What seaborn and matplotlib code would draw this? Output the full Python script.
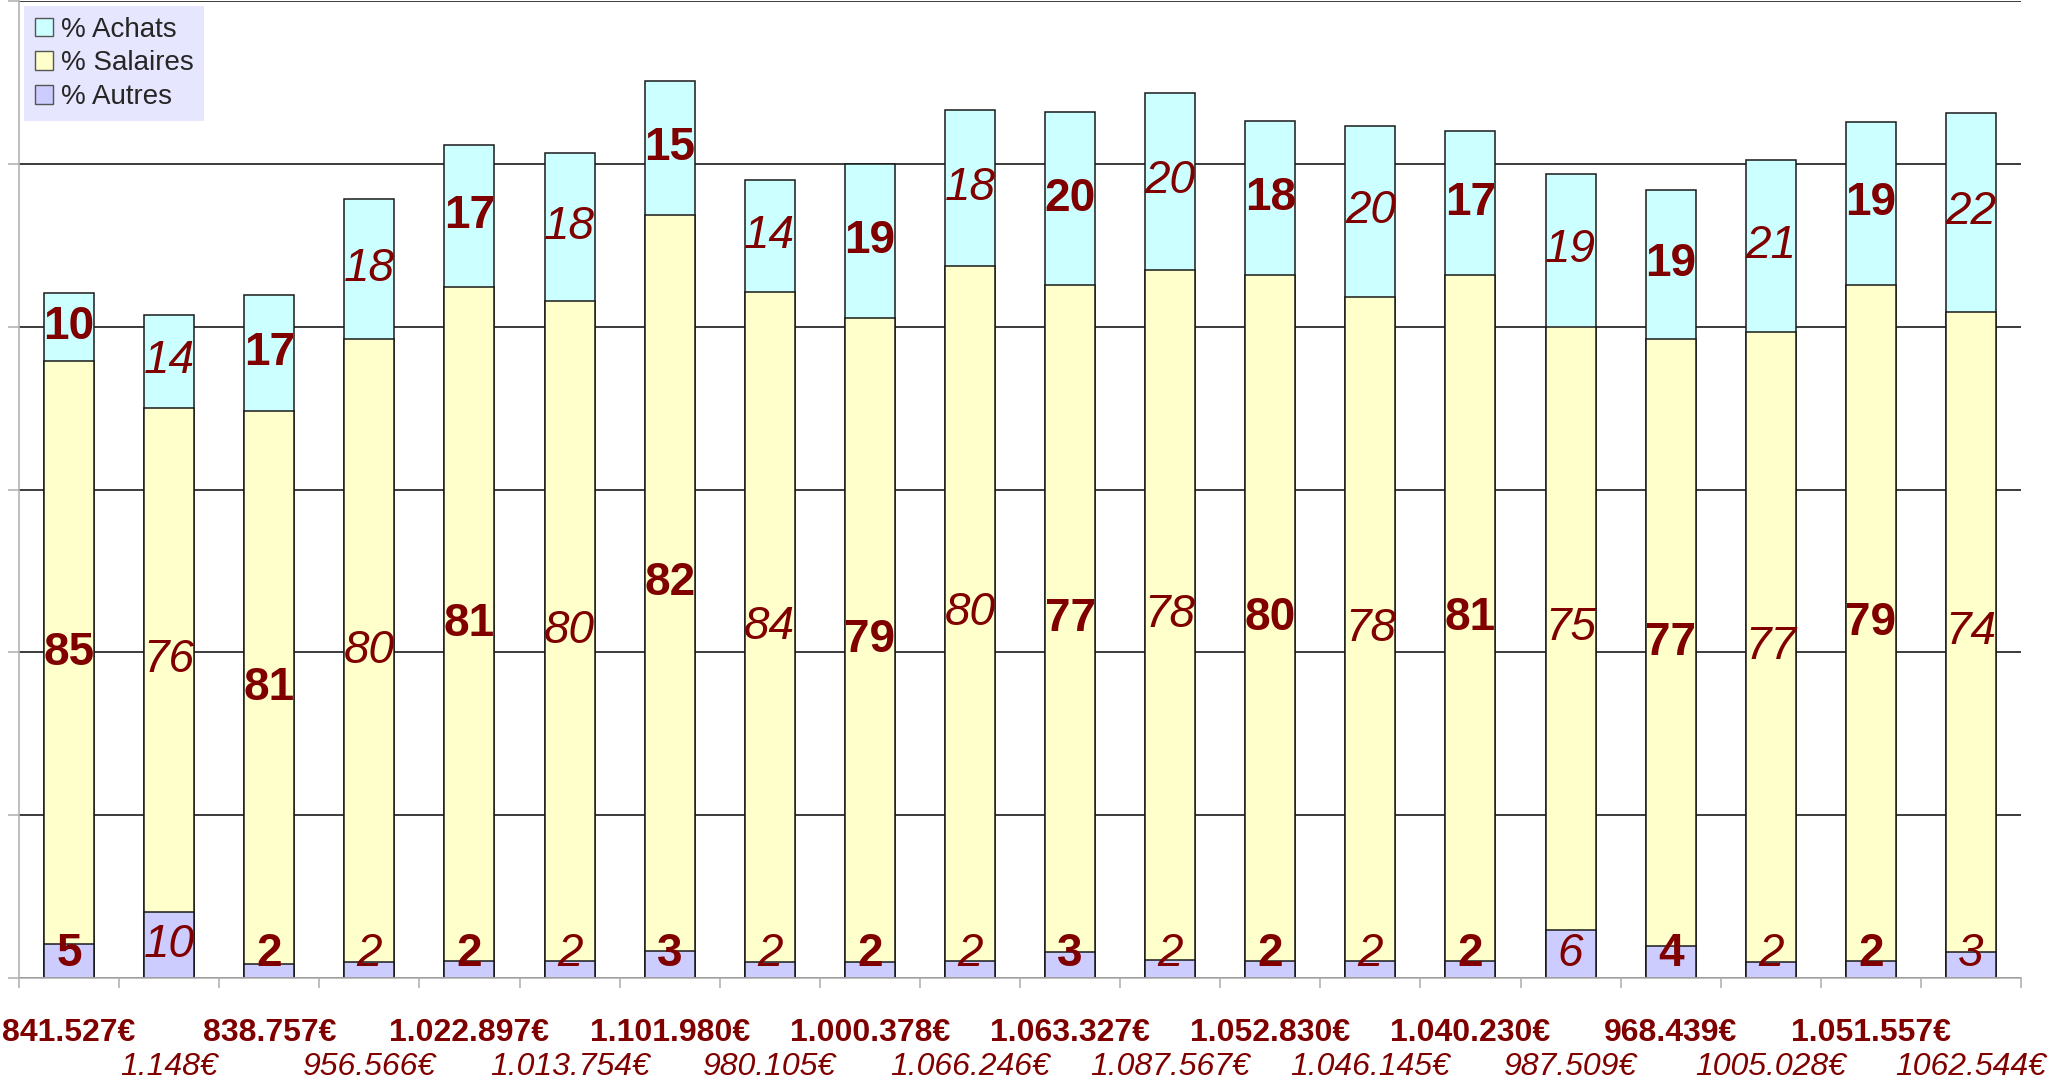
import numpy as np
import pandas as pd
import seaborn as sns
import matplotlib.pyplot as plt
from matplotlib.patches import Patch

# totals (height of each bar, in euros) and the labels printed under the bars
totals = [841527, 814500, 838757, 956566, 1022897, 1013754, 1101980, 980105, 1000378, 1066246,
          1063327, 1087567, 1052830, 1046145, 1040230, 987509, 968439, 1005028, 1051557, 1062544]
total_labels = ["841.527€", "1.148€", "838.757€", "956.566€", "1.022.897€", "1.013.754€",
                "1.101.980€", "980.105€", "1.000.378€", "1.066.246€", "1.063.327€", "1.087.567€",
                "1.052.830€", "1.046.145€", "1.040.230€", "987.509€", "968.439€", "1005.028€",
                "1.051.557€", "1062.544€"]
pct_achats = [10, 14, 17, 18, 17, 18, 15, 14, 19, 18, 20, 20, 18, 20, 17, 19, 19, 21, 19, 22]
pct_salaires = [85, 76, 81, 80, 81, 80, 82, 84, 79, 80, 77, 78, 80, 78, 81, 75, 77, 77, 79, 74]
pct_autres = [5, 10, 2, 2, 2, 2, 3, 2, 2, 2, 3, 2, 2, 2, 2, 6, 4, 2, 2, 3]

c_achats = "#ccffff"
c_salaires = "#ffffcc"
c_autres = "#ccccff"
txt_red = "#800000"

n = len(totals)
df = pd.DataFrame({
    "idx": np.arange(n),
    "total": totals,
    "autres": np.array(totals) * np.array(pct_autres) / 100,
})
df["salaires"] = np.array(totals) * np.array(pct_salaires) / 100
df["low2"] = df["autres"] + df["salaires"]

sns.set_style("white")
plt.rcParams["font.family"] = ["Liberation Sans", "DejaVu Sans"]

fig = plt.figure(figsize=(20.56, 10.82), dpi=100)
ax = fig.add_axes([19 / 2056, 104 / 1082, 2002 / 2056, 977 / 1082])

bar_kw = dict(width=0.5, saturation=1, edgecolor="#1a1a1a", linewidth=1.1, ax=ax)
sns.barplot(data=df, x="idx", y="total", color=c_achats, **bar_kw)
sns.barplot(data=df, x="idx", y="low2", color=c_salaires, **bar_kw)
sns.barplot(data=df, x="idx", y="autres", color=c_autres, **bar_kw)

ax.set_xlim(-0.5, n - 0.5)
ax.set_ylim(0, 1200000)
ax.set_xlabel("")
ax.set_ylabel("")

# value labels: bold on odd bars (1st, 3rd...), italic on the others
for i in range(n):
    kw = dict(ha="center", va="center", color=txt_red, fontsize=33,
              fontweight="bold" if i % 2 == 0 else "normal",
              style="normal" if i % 2 == 0 else "italic")
    a = df["autres"][i]
    s = df["salaires"][i]
    t = df["total"][i]
    ax.text(i, max(a / 2, 30000), str(pct_autres[i]), **kw)
    ax.text(i, a + s / 2, str(pct_salaires[i]), **kw)
    ax.text(i, (a + s + t) / 2, str(pct_achats[i]), **kw)

# grid + axes
ax.set_yticks(np.arange(0, 1200001, 200000))
ax.set_yticklabels([])
ax.yaxis.grid(True, color="#1a1a1a", linewidth=1.2)
ax.set_axisbelow(True)
ax.tick_params(axis="y", which="major", left=True, length=8, width=1.2,
               color="#b3b3b3", direction="out")

ax.set_xticks(np.arange(-0.5, n, 1))
ax.set_xticklabels([])
ax.tick_params(axis="x", which="major", bottom=True, length=7.5, width=1.2,
               color="#b3b3b3", direction="out")

# first row of totals (bold) on the main axis, second row (italic) on a secondary axis
even = np.arange(0, n, 2)
odd = np.arange(1, n, 2)
ax.set_xticks(even, minor=True)
ax.set_xticklabels([total_labels[i] for i in even], minor=True,
                   fontweight="bold", fontsize=23, color=txt_red)
ax.tick_params(axis="x", which="minor", length=0, pad=29)

sec = ax.secondary_xaxis("bottom")
sec.set_xticks(odd)
sec.set_xticklabels([total_labels[i] for i in odd], style="italic", fontsize=23, color=txt_red)
sec.tick_params(axis="x", length=0, pad=53)
sec.spines["bottom"].set_visible(False)

for side in ["top", "right"]:
    ax.spines[side].set_visible(False)
ax.spines["left"].set_color("#b3b3b3")
ax.spines["left"].set_linewidth(1.2)
ax.spines["bottom"].set_color("#b3b3b3")
ax.spines["bottom"].set_linewidth(1.2)

handles = [Patch(facecolor=c_achats, edgecolor="#555555", label="% Achats"),
           Patch(facecolor=c_salaires, edgecolor="#555555", label="% Salaires"),
           Patch(facecolor=c_autres, edgecolor="#555555", label="% Autres")]
leg = ax.legend(handles=handles, loc="upper left", bbox_to_anchor=(5 / 2002, 1 - 5 / 977),
                borderaxespad=0, fontsize=20, frameon=True, fancybox=False,
                handlelength=0.65, handleheight=0.65, handletextpad=0.3,
                labelspacing=0.28, borderpad=0.38)
leg.get_frame().set_facecolor("#e6e6ff")
leg.get_frame().set_edgecolor("none")
leg.get_frame().set_alpha(1)

fig.savefig("out.png", dpi=100)
